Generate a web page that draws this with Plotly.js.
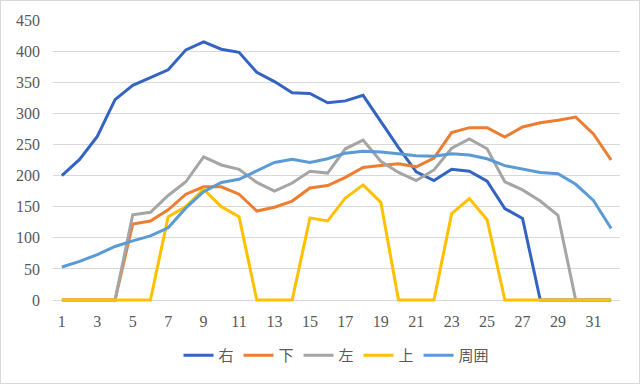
<!DOCTYPE html>
<html>
<head>
<meta charset="utf-8">
<script src="https://cdn.plot.ly/plotly-3.0.1.min.js"></script>
<style>
html,body{margin:0;padding:0;background:#fff;}
#wrap{position:relative;width:640px;height:384px;}
#chart{position:absolute;left:0;top:0;width:640px;height:384px;}
#border{position:absolute;left:0;top:0;width:640px;height:384px;box-sizing:border-box;border:1px solid #d9d9d9;pointer-events:none;}
</style>
</head>
<body>
<div id="wrap"><div id="chart"></div><div id="border"></div></div>
<script>
const categories = [1,2,3,4,5,6,7,8,9,10,11,12,13,14,15,16,17,18,19,20,21,22,23,24,25,26,27,28,29,30,31,32];
const seriesNames = ['右','下','左','上','周囲'];
const migi   = [200,226,263,322,345,357,370,402,415,403,398,366,351,333,332,317,320,329,287,245,206,192,210,207,191,147,131,0,0,0,0,0];
const shita  = [0,0,0,0,122,127,145,170,182,182,170,143,149,159,180,184,197,213,216,219,214,228,269,277,277,262,278,285,289,294,267,225];
const hidari = [0,0,0,0,137,141,168,190,230,217,210,189,175,188,207,204,243,257,223,205,192,209,244,259,243,190,177,159,136,0,0,0];
const ue     = [0,0,0,0,0,0,134,150,178,150,134,0,0,0,132,127,164,185,157,0,0,0,139,163,129,0,0,0,0,0,0,0];
const shui   = [53,62,73,86,95,103,116,148,174,189,194,208,221,226,221,227,236,239,238,235,232,231,235,233,227,216,210,205,203,186,160,115];
const colors = ['#3464C2','#ED7D31','#A5A5A5','#FFC000','#5B9BD5'];
const data = [migi, shita, hidari, ue, shui].map((v,i)=>({
  x: categories, y: v, name: seriesNames[i], type:'scatter', mode:'lines',
  line:{color:colors[i], width:3}
}));
const serif = 'Liberation Serif, DejaVu Serif, serif';
const layout = {
  width:640, height:384,
  margin:{l:53,r:20,t:20,b:80},
  paper_bgcolor:'#fff', plot_bgcolor:'#fff',
  font:{family:serif, size:16, color:'#595959'},
  xaxis:{range:[0.5,32.5], tickmode:'linear', tick0:1, dtick:2, showgrid:false, zeroline:false, showline:false, ticks:'', ticklabelstandoff:8, fixedrange:true, tickfont:{family:serif, size:16, color:'#595959'}},
  yaxis:{range:[-3.2,450], tickmode:'linear', tick0:0, dtick:50, showgrid:true, gridcolor:'#d9d9d9', gridwidth:1, zeroline:true, zerolinecolor:'#d9d9d9', zerolinewidth:1, ticks:'', showline:false, ticklabelstandoff:12, tickfont:{family:serif, size:16, color:'#595959'}},
  showlegend:true,
  legend:{orientation:'h', x:0.5, xanchor:'center', y:-0.19, yanchor:'middle', font:{family:'Noto Sans CJK JP, sans-serif', size:15, color:'#595959'}, itemwidth:30, tracegroupgap:0}
};
Plotly.newPlot('chart', data, layout, {displayModeBar:false, staticPlot:true});
</script>
</body>
</html>
